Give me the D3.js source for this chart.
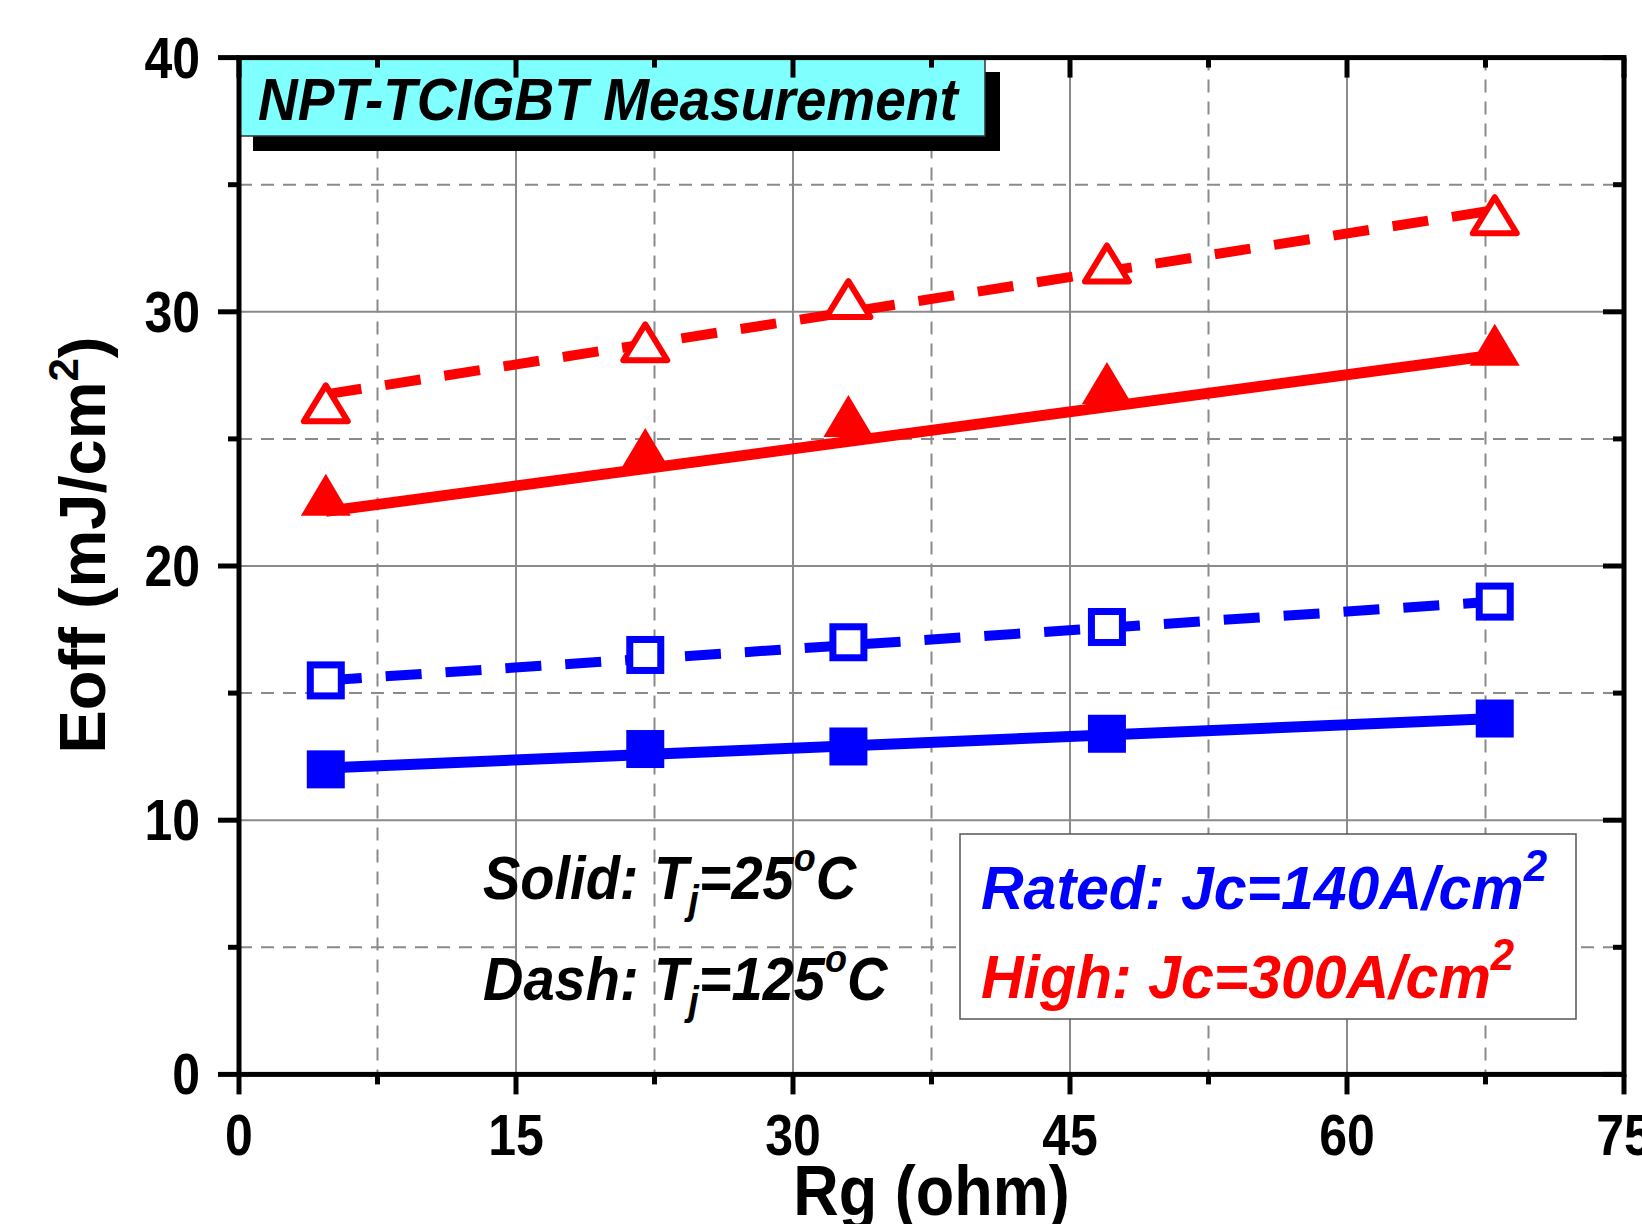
<!DOCTYPE html>
<html>
<head>
<meta charset="utf-8">
<script src="https://cdn.jsdelivr.net/npm/d3@7/dist/d3.min.js"></script>
<style>
  html, body { margin: 0; padding: 0; background: #fff; }
  svg { display: block; font-family: "Liberation Sans", Arial, sans-serif; }
</style>
</head>
<body>
<svg id="chart" width="1642" height="1224"></svg>
<script>
// Gate resistance values (ohm)
const rg = [4.7, 22, 33, 47, 68];

// Measured turn-off energy (mJ/cm^2)
const ratedSolid = [12.0, 12.8, 12.9, 13.4, 14.0];   // Jc=140A/cm2, Tj=25C
const ratedDash  = [15.5, 16.5, 17.0, 17.6, 18.6];   // Jc=140A/cm2, Tj=125C
const highSolid  = [22.8, 24.6, 25.9, 27.2, 28.7];   // Jc=300A/cm2, Tj=25C
const highDash   = [26.4, 28.8, 30.5, 31.9, 33.8];   // Jc=300A/cm2, Tj=125C

// Straight trend lines, values at the first and last Rg
const trendRg = [4.7, 68];
const ratedSolidTrend = [12.05, 14.0];
const ratedDashTrend  = [15.5, 18.6];
const highSolidTrend  = [22.15, 28.3];
const highDashTrend   = [26.75, 34.0];

const xTicks = [0, 15, 30, 45, 60, 75];
const yTicks = [0, 10, 20, 30, 40];
const xMinor = [7.5, 22.5, 37.5, 52.5, 67.5];
const yMinor = [5, 15, 25, 35];

const svg = d3.select("#chart");
const L = 239, R = 1624, T = 57.6, B = 1074.4;
const x = d3.scaleLinear().domain([0, 75]).range([L, R]);
const y = d3.scaleLinear().domain([0, 40]).range([B, T]);

const BLUE = "#0000ff", RED = "#ff0000", GRID = "#8a8a8a";

// text placed at (px, py), slightly stretched vertically (tall lettering)
function tallText(parent, px, py, sy) {
  return parent.append("g")
    .attr("transform", `translate(${px},${py}) scale(1,${sy})`)
    .append("text").attr("x", 0).attr("y", 0);
}

// ---- grid ----
const grid = svg.append("g");
grid.selectAll(".gx").data(xTicks.slice(1, -1)).join("line")
  .attr("x1", d => x(d)).attr("x2", d => x(d)).attr("y1", T).attr("y2", B)
  .attr("stroke", GRID).attr("stroke-width", 2);
grid.selectAll(".gy").data(yTicks.slice(1, -1)).join("line")
  .attr("y1", d => y(d)).attr("y2", d => y(d)).attr("x1", L).attr("x2", R)
  .attr("stroke", GRID).attr("stroke-width", 2);
grid.selectAll(".mx").data(xMinor).join("line")
  .attr("x1", d => x(d)).attr("x2", d => x(d)).attr("y1", T).attr("y2", B)
  .attr("stroke", GRID).attr("stroke-width", 2).attr("stroke-dasharray", "13 9");
grid.selectAll(".my").data(yMinor).join("line")
  .attr("y1", d => y(d)).attr("y2", d => y(d)).attr("x1", L).attr("x2", R)
  .attr("stroke", GRID).attr("stroke-width", 2).attr("stroke-dasharray", "13 9");

// ---- trend lines ----
const line = d3.line().x(d => x(d[0])).y(d => y(d[1]));
const trends = [
  { v: ratedSolidTrend, c: BLUE, dash: null, w: 11 },
  { v: ratedDashTrend,  c: BLUE, dash: "36 24", w: 10 },
  { v: highSolidTrend,  c: RED,  dash: null, w: 11 },
  { v: highDashTrend,   c: RED,  dash: "36 24", w: 10 }
];
trends.forEach(t => {
  svg.append("path")
    .datum(trendRg.map((r, i) => [r, t.v[i]]))
    .attr("d", line)
    .attr("fill", "none")
    .attr("stroke", t.c)
    .attr("stroke-width", t.w)
    .attr("stroke-dasharray", t.dash);
});

// ---- markers ----
const pts = arr => rg.map((r, i) => [r, arr[i]]);
svg.append("g").selectAll("rect").data(pts(ratedSolid)).join("rect")
  .attr("x", d => x(d[0]) - 19).attr("y", d => y(d[1]) - 19)
  .attr("width", 38).attr("height", 38).attr("fill", BLUE);
svg.append("g").selectAll("rect").data(pts(ratedDash)).join("rect")
  .attr("x", d => x(d[0]) - 15.5).attr("y", d => y(d[1]) - 15.5)
  .attr("width", 31).attr("height", 31)
  .attr("fill", "#fff").attr("stroke", BLUE).attr("stroke-width", 7);
svg.append("g").selectAll("path").data(pts(highSolid)).join("path")
  .attr("transform", d => `translate(${x(d[0])},${y(d[1])})`)
  .attr("d", "M0,-21L25,21L-25,21Z").attr("fill", RED);
svg.append("g").selectAll("path").data(pts(highDash)).join("path")
  .attr("transform", d => `translate(${x(d[0])},${y(d[1])})`)
  .attr("d", "M0,-18L22,18L-22,18Z")
  .attr("fill", "#fff").attr("stroke", RED).attr("stroke-width", 6)
  .attr("stroke-linejoin", "round");

// ---- title box with shadow ----
svg.append("rect").attr("x", 253).attr("y", 72).attr("width", 747).attr("height", 79)
  .attr("fill", "#000");
svg.append("rect").attr("x", 239).attr("y", 58).attr("width", 746).attr("height", 78)
  .attr("fill", "#80ffff").attr("stroke", "#333").attr("stroke-width", 1.5);
tallText(svg, 258, 120, 1.08)
  .attr("font-size", 55).attr("font-weight", "bold").attr("font-style", "italic")
  .text("NPT-TCIGBT Measurement");

// ---- temperature notes ----
function tjNote(xp, yp, label, temp) {
  const t = tallText(svg, xp, yp, 1.08)
    .attr("font-size", 56).attr("font-weight", "bold").attr("font-style", "italic");
  t.append("tspan").text(label + " T");
  t.append("tspan").attr("font-size", 38).attr("dy", 14).text("j");
  t.append("tspan").attr("dy", -14).text("=" + temp);
  t.append("tspan").attr("font-size", 36).attr("dy", -26).text("o");
  t.append("tspan").attr("dy", 26).text("C");
}
tjNote(483, 899, "Solid:", "25");
tjNote(483, 1000, "Dash:", "125");

// ---- current density legend ----
svg.append("rect").attr("x", 960).attr("y", 834).attr("width", 616).attr("height", 185)
  .attr("fill", "#fff").attr("stroke", "#555").attr("stroke-width", 1.5);
function jcLine(yp, label, color) {
  const t = tallText(svg, 981, yp, 1.05).attr("fill", color)
    .attr("font-size", 59).attr("font-weight", "bold").attr("font-style", "italic");
  t.append("tspan").text(label);
  t.append("tspan").attr("font-size", 42).attr("dy", -27).text("2");
}
jcLine(909, "Rated: Jc=140A/cm", BLUE);
jcLine(998, "High: Jc=300A/cm", RED);

// ---- frame and ticks ----
const AX = 5;
const frame = svg.append("g").attr("stroke", "#000").attr("stroke-width", AX);
frame.append("rect").attr("x", L).attr("y", T).attr("width", R - L).attr("height", B - T)
  .attr("fill", "none");
// bottom (outward) and top (inward)
frame.selectAll(".bt").data(xTicks).join("line")
  .attr("x1", d => x(d)).attr("x2", d => x(d)).attr("y1", B).attr("y2", B + 20);
frame.selectAll(".bm").data(xMinor).join("line")
  .attr("x1", d => x(d)).attr("x2", d => x(d)).attr("y1", B).attr("y2", B + 10);
frame.selectAll(".tt").data(xTicks).join("line")
  .attr("x1", d => x(d)).attr("x2", d => x(d)).attr("y1", T).attr("y2", T + 20);
frame.selectAll(".tm").data(xMinor).join("line")
  .attr("x1", d => x(d)).attr("x2", d => x(d)).attr("y1", T).attr("y2", T + 10);
// left (outward) and right (inward)
frame.selectAll(".lt").data(yTicks).join("line")
  .attr("y1", d => y(d)).attr("y2", d => y(d)).attr("x1", L).attr("x2", L - 21);
frame.selectAll(".lm").data(yMinor).join("line")
  .attr("y1", d => y(d)).attr("y2", d => y(d)).attr("x1", L).attr("x2", L - 11);
frame.selectAll(".rt").data(yTicks).join("line")
  .attr("y1", d => y(d)).attr("y2", d => y(d)).attr("x1", R).attr("x2", R - 21);
frame.selectAll(".rm").data(yMinor).join("line")
  .attr("y1", d => y(d)).attr("y2", d => y(d)).attr("x1", R).attr("x2", R - 11);

// ---- tick labels ----
const xLab = svg.append("g");
xTicks.forEach(d => {
  tallText(xLab, x(d), 1155, 1.15).attr("text-anchor", "middle")
    .attr("font-size", 50).attr("font-weight", "bold").text(d);
});
const yLab = svg.append("g");
yTicks.forEach(d => {
  tallText(yLab, 200, y(d) + 20, 1.15).attr("text-anchor", "end")
    .attr("font-size", 50).attr("font-weight", "bold").text(d);
});

// ---- axis titles ----
tallText(svg, (L + R) / 2, 1215, 1.12).attr("text-anchor", "middle")
  .attr("font-size", 63).attr("font-weight", "bold").text("Rg (ohm)");
const yt = svg.append("text").attr("transform", "translate(105,545) rotate(-90)")
  .attr("text-anchor", "middle").attr("font-size", 65).attr("font-weight", "bold");
yt.append("tspan").text("Eoff (mJ/cm");
yt.append("tspan").attr("font-size", 42).attr("dy", -27).text("2");
yt.append("tspan").attr("dy", 27).text(")");
</script>
</body>
</html>
